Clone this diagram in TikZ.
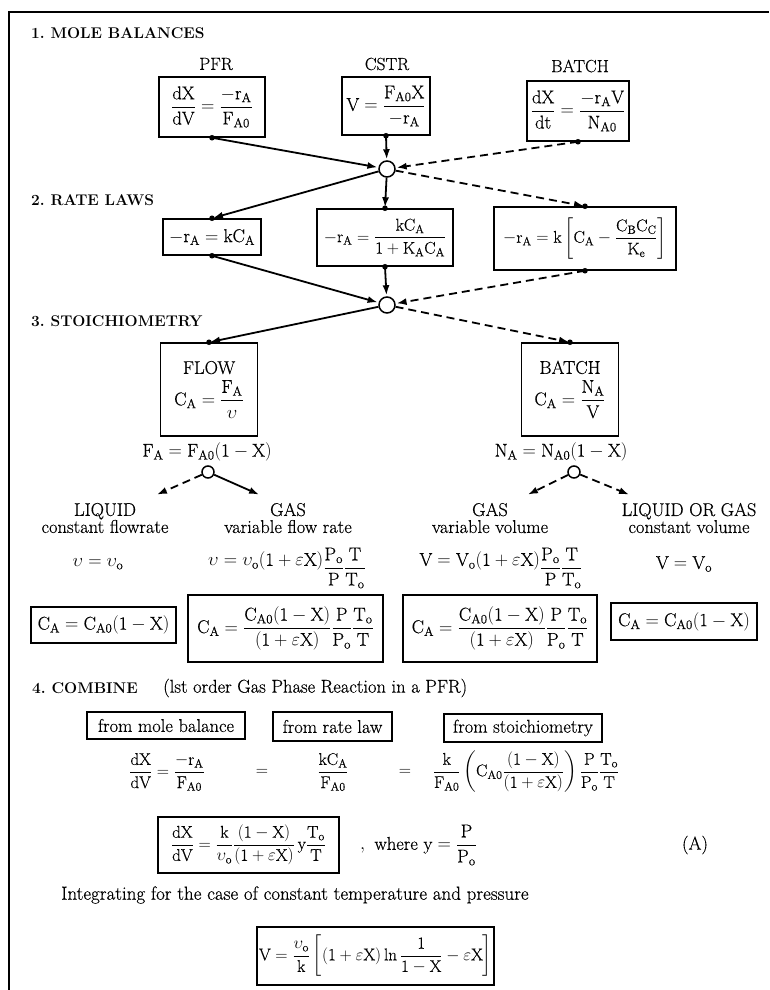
\RequirePackage{fix-cm}
\documentclass[tikz,border=0pt]{standalone}
\usepackage{amsmath}
\usepackage{fontspec}
\setmainfont{Latin Modern Roman}[UprightFeatures={FakeBold=0.4}]
\usetikzlibrary{arrows.meta,positioning,calc}

\everymath{\rm}
\newcommand{\lowfrac}[2]{\lower7pt\hbox{$\dfrac{#1}{#2}$}}

\tikzset{
    eqbox/.style={draw, line width=1.5pt, inner sep=3pt, font=\fontsize{17}{20}\selectfont},
    bigmath/.style={font=\fontsize{18.5}{21}\selectfont},
    eqtext/.style={eqbox, draw=none, inner sep=0pt},
    lbl/.style={font=\fontsize{18.5}{17}\selectfont, align=center, inner sep=1pt},
    ttl/.style={lbl, font=\fontsize{17.5}{17}\selectfont},
    secthead/.style={font=\fontsize{15.5}{18}\selectfont\bfseries, anchor=west, inner sep=0pt},
    joint/.style={circle, draw, fill=white, line width=1.5pt, minimum size=16pt, inner sep=0pt},
    smalljoint/.style={joint, minimum size=12pt},
    solidarr/.style={->, line width=1.8pt, shorten >=1pt},
    dasharr/.style={solidarr, dash pattern=on 8pt off 5pt},
}

\begin{document}
\begin{tikzpicture}[x=1pt, y=-1pt, >={Latex[length=10pt,width=7pt]}]
    \useasboundingbox (0,0) rectangle (769,990);
    % frame
    \draw[line width=2pt] (9,990) -- (9,12) -- (769,12);

    % 1. Mole balances
    \node[secthead] (h1) at (31,33) {1.\ MOLE BALANCES};
    \node[ttl] (pfrt) at (216,64) {PFR};
    \node[ttl] (cstrt) at (387,64) {CSTR};
    \node[ttl] (batt) at (580,66) {BATCH};
    \node[eqbox, bigmath, minimum width=106pt, minimum height=60pt] (pfr) at (212,107)
        {$\dfrac{dX}{dV}=\dfrac{-r_A}{F_{A0}}$};
    \node[eqbox, bigmath, minimum width=88pt, minimum height=58pt] (cstr) at (386,106)
        {$V=\dfrac{F_{A0}X}{-r_A}$};
    \node[eqbox, bigmath, minimum width=102pt, minimum height=60pt] (bat) at (578,111)
        {$\dfrac{dX}{dt}=\dfrac{-r_AV}{N_{A0}}$};
    \node[joint] (j1) at (387,169) {};

    % 2. Rate laws
    \node[secthead] (h2) at (31,200) {2.\ RATE LAWS};
    \node[eqbox, bigmath, minimum width=98pt, minimum height=36pt] (rk) at (212,237)
        {$-r_A=kC_A$};
    \node[eqbox, minimum width=136pt, minimum height=57pt] (rlh) at (385,237.5)
        {$-r_A=\dfrac{kC_A}{1+K_AC_A}$};
    \node[eqbox, minimum width=182pt, minimum height=63pt] (rrev) at (585,238.5)
        {$-r_A=k\left[C_A-\dfrac{C_BC_C}{K_e}\right]$};
    \node[joint] (j2) at (387,305) {};

    % 3. Stoichiometry
    \node[secthead] (h3) at (31,321) {3.\ STOICHIOMETRY};
    \node[eqbox, bigmath, align=center, minimum width=97pt, minimum height=93pt] (flow) at (209,389.5)
        {FLOW\\[5pt]$C_A=\dfrac{F_A}{\upsilon}$};
    \node[eqbox, bigmath, align=center, minimum width=97pt, minimum height=93pt] (sbat) at (570,389.5)
        {BATCH\\[5pt]$C_A=\dfrac{N_A}{V}$};
    \node[lbl] (fa) at (207,452) {$F_A=F_{A0}(1-X)$};
    \node[lbl] (na) at (561,452) {$N_A=N_{A0}(1-X)$};
    \node[smalljoint] (j3) at (208,472) {};
    \node[smalljoint] (j4) at (574,472) {};

    \node[lbl] (liq) at (105,518) {LIQUID\\constant flowrate};
    \node[lbl] (gasf) at (288,518) {GAS\\variable flow rate};
    \node[lbl] (gasv) at (490,518) {GAS\\variable volume};
    \node[lbl] (cvol) at (689,518) {LIQUID OR GAS\\constant volume};
    \coordinate (liqtip) at (156,495);
    \coordinate (gasftip) at (260,495);
    \coordinate (gasvtip) at (527,495);
    \coordinate (cvoltip) at (630,495);

    \node[lbl] (vliq) at (98,564) {$\upsilon=\upsilon_o$};
    \node[lbl] (vgas) at (287,568) {$\upsilon=\upsilon_o(1+\varepsilon X)\lowfrac{P_o}{P}\lowfrac{T}{T_o}$};
    \node[lbl] (vvar) at (501,568) {$V=V_o(1+\varepsilon X)\lowfrac{P_o}{P}\lowfrac{T}{T_o}$};
    \node[lbl] (vcon) at (684,564) {$V=V_o$};

    \node[eqbox, bigmath, minimum width=145pt, minimum height=36pt] (c1) at (103.5,625)
        {$C_A=C_{A0}(1-X)$};
    \node[eqbox, bigmath, minimum width=195pt, minimum height=67pt] (c2) at (285.5,628.5)
        {$C_A=\dfrac{C_{A0}(1-X)}{(1+\varepsilon X)}\dfrac{P}{P_o}\dfrac{T_o}{T}$};
    \node[eqbox, bigmath, minimum width=194pt, minimum height=67pt] (c3) at (500,628.5)
        {$C_A=\dfrac{C_{A0}(1-X)}{(1+\varepsilon X)}\dfrac{P}{P_o}\dfrac{T_o}{T}$};
    \node[eqbox, bigmath, minimum width=146pt, minimum height=37pt] (c4) at (684,621.5)
        {$C_A=C_{A0}(1-X)$};

    % 4. Combine
    \node[secthead] (h4) at (32,688) {4.\ COMBINE};
    \node[lbl, anchor=west] (h4note) at (162,688) {(lst order Gas Phase Reaction in a PFR)};
    \node[eqbox, lbl, draw, inner sep=3pt, minimum width=158pt, minimum height=27pt] (frommb) at (166,725.5) {from mole balance};
    \node[eqbox, lbl, draw, inner sep=3pt, minimum width=119pt, minimum height=29pt] (fromrl) at (332.5,726.5) {from rate law};
    \node[eqbox, lbl, draw, inner sep=3pt, minimum width=158pt, minimum height=28pt] (fromst) at (523,728) {from stoichiometry};
    \node[eqtext] (eqmb) at (167,772) {$\dfrac{dX}{dV}=\dfrac{-r_A}{F_{A0}}$};
    \node[eqtext] (eqs1) at (262,772) {$=$};
    \node[eqtext] (eqrl) at (333,772) {$\dfrac{kC_A}{F_{A0}}$};
    \node[eqtext] (eqs2) at (405,772) {$=$};
    \node[eqtext] (eqst) at (526,772)
        {$\dfrac{k}{F_{A0}}\left(C_{A0}\dfrac{(1-X)}{(1+\varepsilon X)}\right)\dfrac{P}{P_o}\dfrac{T_o}{T}$};

    \node[eqbox, minimum width=181pt, minimum height=56pt] (eqa) at (248.5,845)
        {$\dfrac{dX}{dV}=\dfrac{k}{\upsilon_o}\dfrac{(1-X)}{(1+\varepsilon X)}\,y\dfrac{T_o}{T}$};
    \node[lbl, anchor=west] (where) at (359,845) {$,$\enspace where $y=\dfrac{P}{P_o}$};
    \node[lbl] (tagA) at (695,845) {(A)};
    \node[lbl, anchor=west, font=\fontsize{19}{20}\selectfont] (integ) at (60,895)
        {Integrating for the case of constant temperature and pressure};
    \node[eqbox, inner xsep=2pt, minimum width=231pt, minimum height=58pt] (final) at (375.5,956)
        {$V=\dfrac{\upsilon_o}{k}\left[(1+\varepsilon X)\ln\dfrac{1}{1-X}-\varepsilon X\right]$};

    % connectors
    \draw[solidarr] (pfr.south) -- (j1);
    \draw[solidarr] (cstr.south) -- (j1);
    \draw[dasharr] (bat.south) -- (j1);
    \draw[solidarr] (j1) -- (rk.north);
    \draw[solidarr] (j1) -- (rlh.north);
    \draw[dasharr] (j1) -- (rrev.north);
    \draw[solidarr] (rk.south) -- (j2);
    \draw[solidarr] (rlh.south) -- (j2);
    \draw[dasharr] (rrev.south) -- (j2);
    \draw[solidarr] (j2) -- (flow.north);
    \draw[dasharr] (j2) -- (sbat.north);
    \draw[dasharr] (j3) -- (liqtip);
    \draw[solidarr] (j3) -- (gasftip);
    \draw[dasharr] (j4) -- (gasvtip);
    \draw[dasharr] (j4) -- (cvoltip);
    \foreach \a in {pfr.south, cstr.south, bat.south, rk.north, rk.south, rlh.north,
                    rlh.south, rrev.north, rrev.south, flow.north, sbat.north}
        \fill (\a) circle (2.8pt);
\end{tikzpicture}
\end{document}
